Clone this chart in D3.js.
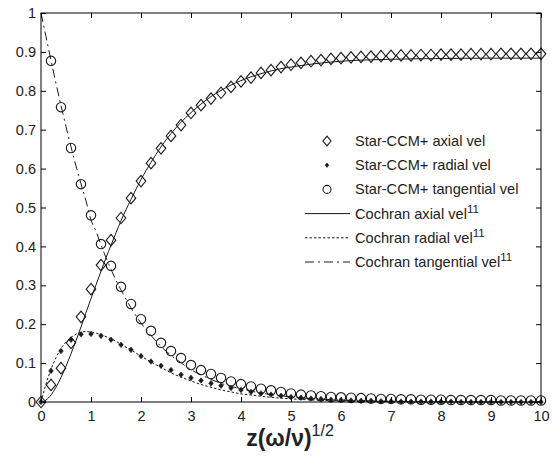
<!DOCTYPE html>
<html>
<head>
<meta charset="utf-8">
<script src="https://cdn.jsdelivr.net/npm/d3@7"></script>
<style>
  html, body { margin: 0; padding: 0; background: #fff; }
  svg { display: block; }
  text { font-family: "Liberation Sans", Arial, sans-serif; fill: #222; }
</style>
</head>
<body>
<svg id="chart" width="552" height="458"></svg>
<script>
// Star-CCM+ sample positions (every 0.2 in z(ω/ν)^1/2)
const zSim = d3.range(0, 51).map(i => +(i * 0.2).toFixed(1));

const simAxial = [
  0.000, 0.044, 0.087, 0.152, 0.219, 0.290, 0.352, 0.416, 0.473, 0.524,
  0.568, 0.614, 0.652, 0.684, 0.712, 0.743, 0.763, 0.780, 0.795, 0.810,
  0.824, 0.834, 0.846, 0.853, 0.861, 0.867, 0.872, 0.876, 0.879, 0.882,
  0.884, 0.886, 0.887, 0.888, 0.889, 0.890, 0.891, 0.891, 0.892, 0.892,
  0.893, 0.893, 0.893, 0.894, 0.894, 0.894, 0.895, 0.895, 0.895, 0.895,
  0.895
];

const simRadial = [
  0.000, 0.080, 0.131, 0.160, 0.174, 0.175, 0.170, 0.160, 0.147, 0.134,
  0.118, 0.104, 0.093, 0.082, 0.070, 0.062, 0.055, 0.048, 0.042, 0.036,
  0.031, 0.026, 0.022, 0.019, 0.016, 0.013, 0.011, 0.009, 0.008, 0.006,
  0.005, 0.004, 0.003, 0.003, 0.002, 0.002, 0.001, 0.001, 0.001, 0.001,
  0.001, 0.001, 0.000, 0.000, 0.000, 0.000, 0.000, 0.000, 0.000, 0.000,
  0.000
];

// tangential samples begin at the first cell off the wall (z = 0.2)
const simTangential = [
  null,  0.877, 0.758, 0.653, 0.560, 0.480, 0.406, 0.350, 0.296, 0.252,
  0.213, 0.183, 0.152, 0.131, 0.113, 0.095, 0.082, 0.072, 0.062, 0.053,
  0.046, 0.040, 0.034, 0.030, 0.026, 0.022, 0.019, 0.017, 0.015, 0.013,
  0.012, 0.011, 0.010, 0.009, 0.008, 0.008, 0.007, 0.007, 0.006, 0.006,
  0.006, 0.005, 0.005, 0.005, 0.005, 0.005, 0.004, 0.004, 0.004, 0.004,
  0.004
];

// Cochran similarity solution
const zCochran = [
  0, 0.1, 0.2, 0.3, 0.4, 0.5, 0.6, 0.7, 0.8, 0.9, 1.0, 1.1, 1.2, 1.3, 1.4, 1.5,
  1.6, 1.8, 2.0, 2.2, 2.4, 2.6, 2.8, 3.0, 3.2, 3.4, 3.6, 3.8, 4.0, 4.2, 4.4,
  4.6, 4.8, 5.0, 5.5, 6.0, 7.0, 8.0, 9.0, 10.0
];
const cochranRadial = [
  0.000, 0.046, 0.084, 0.114, 0.138, 0.154, 0.166, 0.174, 0.179, 0.181, 0.180,
  0.177, 0.173, 0.168, 0.162, 0.156, 0.148, 0.134, 0.118, 0.103, 0.089, 0.075,
  0.064, 0.054, 0.045, 0.038, 0.031, 0.026, 0.021, 0.018, 0.015, 0.012, 0.010,
  0.008, 0.005, 0.003, 0.001, 0.000, 0.000, 0.000
];
const cochranTangential = [
  1.000, 0.939, 0.878, 0.819, 0.762, 0.708, 0.656, 0.607, 0.561, 0.517, 0.468,
  0.439, 0.404, 0.371, 0.341, 0.313, 0.288, 0.242, 0.203, 0.171, 0.143, 0.120,
  0.101, 0.083, 0.070, 0.058, 0.048, 0.040, 0.034, 0.028, 0.023, 0.019, 0.016,
  0.013, 0.008, 0.005, 0.002, 0.001, 0.000, 0.000
];
const cochranAxial = [
  0.000, 0.005, 0.018, 0.038, 0.063, 0.092, 0.124, 0.158, 0.193, 0.230, 0.266,
  0.301, 0.336, 0.371, 0.403, 0.435, 0.466, 0.521, 0.572, 0.616, 0.656, 0.690,
  0.719, 0.744, 0.766, 0.785, 0.801, 0.815, 0.826, 0.836, 0.844, 0.851, 0.857,
  0.861, 0.870, 0.876, 0.881, 0.883, 0.884, 0.884
];

const xTicks = d3.range(0, 11);
const yTicks = d3.range(0, 11).map(i => i / 10);
const yTickLabels = ["0", "0.1", "0.2", "0.3", "0.4", "0.5", "0.6", "0.7", "0.8", "0.9", "1"];

const legendItems = [
  { label: "Star-CCM+ axial vel", kind: "diamond" },
  { label: "Star-CCM+ radial vel", kind: "dot" },
  { label: "Star-CCM+ tangential vel", kind: "circle" },
  { label: "Cochran axial vel", sup: "11", kind: "solid" },
  { label: "Cochran radial vel", sup: "11", kind: "dotted" },
  { label: "Cochran tangential vel", sup: "11", kind: "dashdot" }
];

const svg = d3.select("#chart");
const plotLeft = 41, plotRight = 541, plotTop = 13, plotBottom = 402;
const x = d3.scaleLinear().domain([0, 10]).range([plotLeft, plotRight]);
const y = d3.scaleLinear().domain([0, 1]).range([plotBottom, plotTop]);

const ink = "#1a1a1a";
const dashStyles = { solid: null, dotted: "2.5,2", dashdot: "9,4,2,4" };

// curves
const line = d3.line().x(d => x(d[0])).y(d => y(d[1])).curve(d3.curveMonotoneX);
function drawCurve(vals, kind) {
  svg.append("path")
    .datum(zCochran.map((z, i) => [z, vals[i]]))
    .attr("d", line)
    .attr("fill", "none")
    .attr("stroke", ink)
    .attr("stroke-width", 1)
    .attr("stroke-dasharray", dashStyles[kind]);
}
drawCurve(cochranAxial, "solid");
drawCurve(cochranRadial, "dotted");
drawCurve(cochranTangential, "dashdot");

// markers
const diamond = (cx, cy, r) => `M${cx},${cy - r * 1.2}L${cx + r},${cy}L${cx},${cy + r * 1.2}L${cx - r},${cy}Z`;
function drawMarker(g, kind, cx, cy, scale) {
  if (kind === "diamond") {
    g.append("path").attr("d", diamond(cx, cy, 4.8 * scale))
      .attr("fill", "none").attr("stroke", ink).attr("stroke-width", 1.1);
  } else if (kind === "circle") {
    g.append("circle").attr("cx", cx).attr("cy", cy).attr("r", 4.7 * scale)
      .attr("fill", "none").attr("stroke", ink).attr("stroke-width", 1.1);
  } else if (kind === "dot") {
    g.append("path").attr("d", diamond(cx, cy, 2.3 * scale))
      .attr("fill", ink).attr("stroke", ink).attr("stroke-width", 0.6);
  }
}
const markers = svg.append("g");
zSim.forEach((z, i) => drawMarker(markers, "diamond", x(z), y(simAxial[i]), 1));
zSim.forEach((z, i) => drawMarker(markers, "dot", x(z), y(simRadial[i]), 1));
zSim.forEach((z, i) => {
  if (simTangential[i] !== null) drawMarker(markers, "circle", x(z), y(simTangential[i]), 1);
});

// frame and inward ticks on all four sides
svg.append("rect").attr("x", plotLeft).attr("y", plotTop)
  .attr("width", plotRight - plotLeft).attr("height", plotBottom - plotTop)
  .attr("fill", "none").attr("stroke", "#000").attr("stroke-width", 1);

const tickLen = 5;
const axB = svg.append("g").attr("transform", `translate(0,${plotBottom})`)
  .call(d3.axisBottom(x).tickValues(xTicks).tickSizeInner(-tickLen).tickSizeOuter(0).tickPadding(9).tickFormat(d3.format("d")));
const axT = svg.append("g").attr("transform", `translate(0,${plotTop})`)
  .call(d3.axisTop(x).tickValues(xTicks).tickSizeInner(-tickLen).tickSizeOuter(0).tickFormat(""));
const axL = svg.append("g").attr("transform", `translate(${plotLeft},0)`)
  .call(d3.axisLeft(y).tickValues(yTicks).tickSizeInner(-tickLen).tickSizeOuter(0).tickPadding(5)
    .tickFormat((d, i) => yTickLabels[i]));
const axR = svg.append("g").attr("transform", `translate(${plotRight},0)`)
  .call(d3.axisRight(y).tickValues(yTicks).tickSizeInner(-tickLen).tickSizeOuter(0).tickFormat(""));

[axB, axT, axL, axR].forEach(a => {
  a.select(".domain").remove();
  a.selectAll(".tick line").attr("stroke", "#000");
  a.selectAll("text").attr("font-size", 14.5).attr("fill", "#333")
    .attr("font-family", "'Liberation Sans', Arial, sans-serif");
});

// axis title
const title = svg.append("text").attr("x", 290).attr("y", 446).attr("text-anchor", "middle")
  .attr("font-size", 23).attr("font-weight", "bold");
title.append("tspan").text("z(ω/ν)");
title.append("tspan").attr("dy", -10).attr("font-size", 16).attr("font-weight", "normal").text("1/2");

// legend
const legend = svg.append("g");
const legendY0 = 141, legendStep = 24.2;
legendItems.forEach((d, i) => {
  const cy = legendY0 + i * legendStep;
  if (d.kind === "solid" || d.kind === "dotted" || d.kind === "dashdot") {
    legend.append("line").attr("x1", 305).attr("x2", 350).attr("y1", cy).attr("y2", cy)
      .attr("stroke", ink).attr("stroke-width", 1).attr("stroke-dasharray", dashStyles[d.kind]);
  } else {
    drawMarker(legend, d.kind, 327, cy, d.kind === "dot" ? 0.8 : 0.85);
  }
  const t = legend.append("text").attr("x", 355).attr("y", cy + 5).attr("font-size", 14.6).attr("fill", "#333");
  t.append("tspan").text(d.label);
  if (d.sup) t.append("tspan").attr("dy", -6).attr("font-size", 11.5).text(d.sup);
});
</script>
</body>
</html>
